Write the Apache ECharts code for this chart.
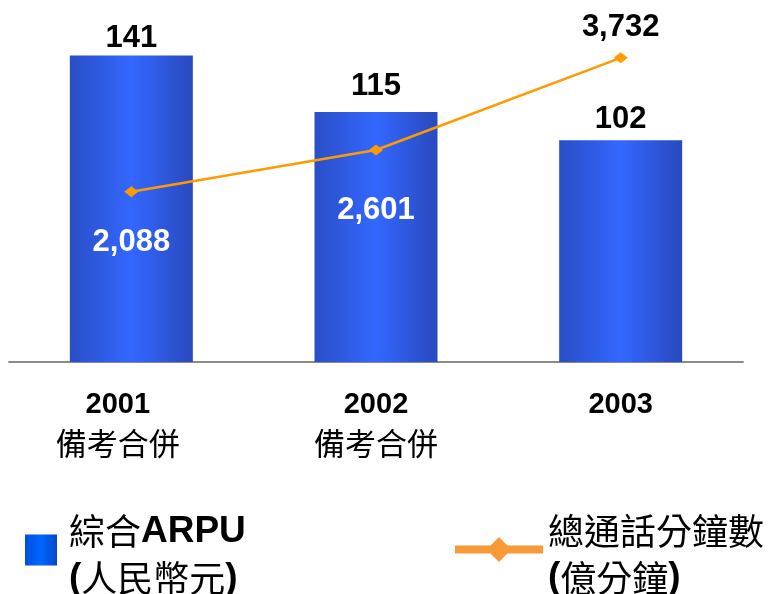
<!DOCTYPE html>
<html lang="zh-Hant">
<head>
  <meta charset="UTF-8">
  <title>ARPU and call minutes</title>
  <script src="https://cdn.jsdelivr.net/npm/echarts/dist/echarts.min.js"></script>
  <style>
    body { margin: 0; background: #fff; }
    #chart { width: 776px; height: 594px; }
  </style>
</head>
<body>
<div id="chart"></div>

<script>
    // data
    const years = ['2001', '2002', '2003'];
    const notes = ['備考合併', '備考合併', ''];
    const arpu = [141, 115, 102];
    const minutes = [2088, 2601, 3732];

    const barName = '綜合ARPU (人民幣元)';
    const lineName = '總通話分鐘數 (億分鐘)';

    const latin = 'Liberation Sans, Arial, sans-serif';
    const cjk = 'Noto Sans CJK TC, sans-serif';

    // label placement tweaks (not data)
    const barLabelDist = [2, 10, 5];
    const lineLabelPos = ['bottom', 'bottom', 'top'];
    const lineLabelDist = [30, 39, 9];

    const chart = echarts.init(document.getElementById('chart'));

    const barGrad = new echarts.graphic.LinearGradient(0, 0, 1, 0, [
        { offset: 0, color: '#2a4ec6' },
        { offset: 0.5, color: '#3367ff' },
        { offset: 1, color: '#2949be' }
    ]);
    const legendGrad = new echarts.graphic.LinearGradient(0, 0, 1, 0, [
        { offset: 0, color: '#0050e0' },
        { offset: 0.5, color: '#0066ff' },
        { offset: 1, color: '#0048c8' }
    ]);

    const richText = {
        c: { fontFamily: cjk, fontSize: 36, lineHeight: 47, color: '#000' },
        b: { fontFamily: latin, fontSize: 37, fontWeight: 'bold', lineHeight: 47, color: '#000' }
    };

    const yearStyle = { fontFamily: latin, fontSize: 29, fontWeight: 'bold', color: '#000', lineHeight: 38 };
    const noteStyle = { fontFamily: cjk, fontSize: 31, color: '#000', lineHeight: 38 };

    const options = {
        animation: false,
        grid: { left: 9, right: 33, top: 36, bottom: 232 },
        legend: [
            {
                left: 25,
                top: 513,
                padding: 0,
                itemWidth: 32,
                itemHeight: 31,
                data: [{ name: barName, icon: 'rect', itemStyle: { color: legendGrad } }],
                formatter: () => '{c|綜合}{b|ARPU}\n{b|(}{c|人民幣元}{b|)}',
                textStyle: { rich: richText, padding: [10, 0, 0, 7] }
            },
            {
                left: 451,
                top: 513,
                padding: 0,
                itemWidth: 88,
                itemHeight: 31,
                data: [{
                    name: lineName,
                    itemStyle: { color: '#f89a38' },
                    lineStyle: { color: '#f89a38', width: 8 }
                }],
                formatter: () => '{c|總通話分鐘數}\n{b|(}{c|億分鐘}{b|)}',
                textStyle: { rich: richText, padding: [10, 0, 0, 0] }
            }
        ],
        xAxis: {
            type: 'category',
            data: years,
            axisLine: { lineStyle: { color: '#8a8a8a', width: 2 } },
            axisTick: { show: false },
            axisLabel: {
                margin: 24,
                formatter: (v, i) => {
                    const k = i === 0 ? '0' : '';
                    return notes[i] ? '{y' + k + '|' + v + '}\n{n' + k + '|' + notes[i] + '}' : '{y|' + v + '}';
                },
                rich: {
                    y: yearStyle,
                    n: noteStyle,
                    y0: Object.assign({ padding: [0, 27, 0, 0] }, yearStyle),
                    n0: Object.assign({ padding: [0, 27, 0, 0] }, noteStyle)
                }
            }
        },
        yAxis: [
            { type: 'value', min: 0, max: 150, show: false, splitLine: { show: false } },
            { type: 'value', min: 0, max: 4000, show: false, splitLine: { show: false } }
        ],
        series: [
            {
                name: barName,
                type: 'bar',
                data: arpu.map((v, i) => ({ value: v, label: { distance: barLabelDist[i] } })),
                barWidth: 123,
                itemStyle: { color: barGrad },
                label: {
                    show: true,
                    position: 'top',
                    fontFamily: latin,
                    fontSize: 31,
                    fontWeight: 'bold',
                    color: '#000'
                }
            },
            {
                name: lineName,
                type: 'line',
                yAxisIndex: 1,
                data: minutes.map((v, i) => ({
                    value: v,
                    label: { position: lineLabelPos[i], distance: lineLabelDist[i], color: i === 2 ? '#000' : '#fff' }
                })),
                symbol: 'diamond',
                symbolSize: [14, 11],
                lineStyle: { color: '#ff9a00', width: 2.5 },
                itemStyle: { color: '#ff9a00' },
                label: {
                    show: true,
                    fontFamily: latin,
                    fontSize: 31,
                    fontWeight: 'bold',
                    formatter: p => p.value.toLocaleString('en-US')
                }
            }
        ]
    };

    chart.setOption(options);
</script>
</body>
</html>
